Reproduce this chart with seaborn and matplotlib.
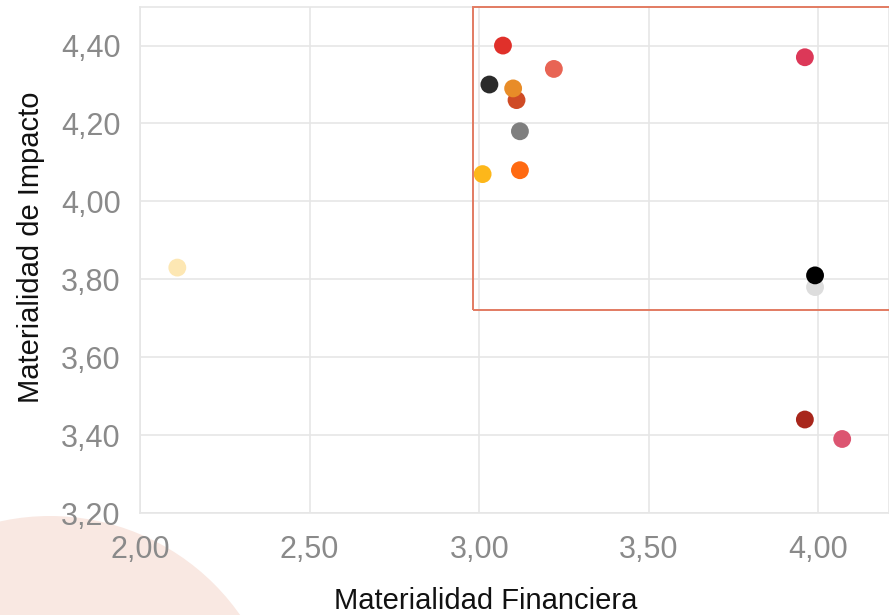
import matplotlib
matplotlib.use("Agg")
import matplotlib.pyplot as plt
from matplotlib.patches import Rectangle, Circle
from matplotlib.ticker import FuncFormatter, FixedLocator
import seaborn as sns
import pandas as pd

# Topics (one colour each), financial materiality (x) and impact materiality (y)
topics = ["T01", "T02", "T03", "T04", "T05", "T06", "T07",
          "T08", "T09", "T10", "T11", "T12", "T13", "T14"]
financiera = [2.11, 3.01, 3.03, 3.07, 3.11, 3.10, 3.22,
              3.12, 3.12, 3.96, 3.99, 3.99, 3.96, 4.07]
impacto = [3.83, 4.07, 4.30, 4.40, 4.26, 4.29, 4.34,
           4.18, 4.08, 4.37, 3.78, 3.81, 3.44, 3.39]
colores = ["#fde7b3", "#fdb71a", "#2b2b2b", "#e0302a", "#cf4b25", "#e88c28", "#e86454",
           "#7f7f7f", "#ff6a12", "#dc3858", "#dddddd", "#000000", "#a8261b", "#dc5571"]

x_ticks = [2.00, 2.50, 3.00, 3.50, 4.00]
y_ticks = [3.20, 3.40, 3.60, 3.80, 4.00, 4.20, 4.40]

df = pd.DataFrame({"tema": topics, "financiera": financiera, "impacto": impacto})

sns.set_theme(style="whitegrid")
plt.rcParams["font.family"] = ["Liberation Sans", "DejaVu Sans"]

fig = plt.figure(figsize=(8.89, 6.15), dpi=100)
fig.patch.set_facecolor("white")

# decorative blush circle in the lower-left corner (display pixels, origin bottom-left)
fig.patches.append(Circle((50, -133), 232, transform=None, facecolor="#f9e8e2",
                          edgecolor="none", zorder=-1))

ax = fig.add_axes([140 / 889, 102 / 615, 749 / 889, 506 / 615])
ax.set_facecolor("none")

sns.scatterplot(data=df, x="financiera", y="impacto", hue="tema",
                palette=dict(zip(topics, colores)), s=165, linewidth=0,
                legend=False, ax=ax, zorder=3)

# highlighted priority zone
ax.add_patch(Rectangle((2.983, 3.72), 1.6, 0.78, fill=False, edgecolor="#e27b62",
                       linewidth=1.4, clip_on=False, zorder=4))

ax.set_xlim(2.0, 4.208)
ax.set_ylim(3.2, 4.499)
ax.xaxis.set_major_locator(FixedLocator(x_ticks))
ax.yaxis.set_major_locator(FixedLocator(y_ticks))
fmt = FuncFormatter(lambda v, p: f"{v:.2f}".replace(".", ","))
ax.xaxis.set_major_formatter(fmt)
ax.yaxis.set_major_formatter(fmt)

ax.grid(True, color="#e6e6e6", linewidth=1.2)
for sp in ax.spines.values():
    sp.set_color("#e6e6e6")
    sp.set_linewidth(1.2)

ax.tick_params(axis="both", length=0, labelsize=22, labelcolor="#8a8a8a")
ax.tick_params(axis="y", pad=14)
ax.tick_params(axis="x", pad=16)

ax.set_xlabel("Materialidad Financiera", fontsize=21, color="#111111")
ax.set_ylabel("Materialidad de Impacto", fontsize=21, color="#111111")
ax.xaxis.set_label_coords(0.462, -0.147)
ax.yaxis.set_label_coords(-0.127, 0.526)

fig.savefig("out.png", dpi=100)
